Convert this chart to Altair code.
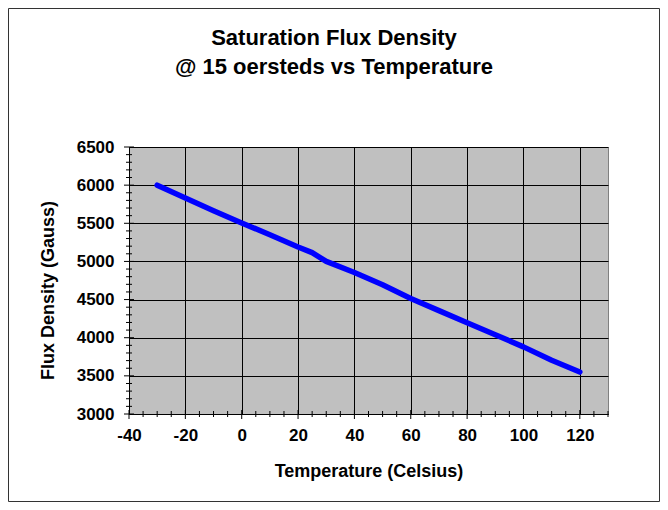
import altair as alt
import pandas as pd

# Data
TEMPS = [-30, -20, -10, 0, 10, 20, 25, 30, 40, 50, 60, 70, 80, 90, 100, 110, 120]
FLUX = [6000, 5830, 5665, 5505, 5350, 5190, 5115, 5000, 4855, 4695, 4515, 4355, 4195, 4040, 3880, 3705, 3550]

TITLE_LINES = ["Saturation Flux Density", "@ 15 oersteds vs Temperature"]
X_TITLE = "Temperature (Celsius)"
Y_TITLE = "Flux Density (Gauss)"

X_MAJOR = [-40, -20, 0, 20, 40, 60, 80, 100, 120]
X_MINOR = [v for v in range(-35, 131, 5) if v not in X_MAJOR]
Y_MAJOR = [3000, 3500, 4000, 4500, 5000, 5500, 6000, 6500]
Y_MINOR = [v for v in range(3100, 6500, 100) if v not in Y_MAJOR]

FONT = "Liberation Sans"
W, H = 479, 267
PAD = {"left": 121, "top": 139, "right": 52, "bottom": 88}

xscale = alt.Scale(domain=[-40, 130], nice=False, zero=False)
yscale = alt.Scale(domain=[3000, 6500], nice=False, zero=False)

x_axis = alt.Axis(values=X_MAJOR, title=X_TITLE, grid=True, ticks=False,
                  labelExpr="'' + datum.value", labelFlush=False, labelOverlap=False,
                  labelPadding=13, titleBaseline="alphabetic", titleY=62)
y_axis = alt.Axis(values=Y_MAJOR, title=Y_TITLE, grid=True, ticks=False,
                  labelExpr="'' + datum.value", labelFlush=False, labelOverlap=False,
                  labelPadding=15, titleBaseline="alphabetic",
                  titleX=-76, titleY=143, titleAngle=-90)

df = pd.DataFrame({"temp": TEMPS, "flux": FLUX})

line = alt.Chart(df).mark_line(
    color="#0000FF", strokeWidth=5.5, strokeCap="round", strokeJoin="round"
).encode(
    x=alt.X("temp:Q", scale=xscale, axis=x_axis),
    y=alt.Y("flux:Q", scale=yscale, axis=y_axis),
)

def xticks(vals, up, down):
    return alt.Chart(pd.DataFrame({"v": vals})).mark_rule(
        color="black", strokeWidth=1, yOffset=-up, y2Offset=down
    ).encode(
        x=alt.X("v:Q", scale=xscale, axis=x_axis),
        y=alt.YDatum(3000, axis=y_axis),
        y2=alt.Y2Datum(3000),
    )

def yticks(vals, left, right):
    return alt.Chart(pd.DataFrame({"v": vals})).mark_rule(
        color="black", strokeWidth=1, xOffset=-left, x2Offset=right
    ).encode(
        y=alt.Y("v:Q", scale=yscale, axis=y_axis),
        x=alt.XDatum(-40, axis=x_axis),
        x2=alt.X2Datum(-40),
    )

title = alt.Chart(pd.DataFrame({"t": ["\n".join(TITLE_LINES)]})).mark_text(
    font=FONT, fontSize=22, fontWeight="bold", align="center", baseline="alphabetic",
    lineBreak="\n", lineHeight=29, color="black"
).encode(text="t:N", x=alt.value(205), y=alt.value(-102))

frame = alt.Chart(pd.DataFrame({"a": [0]})).mark_rect(
    fillOpacity=0, stroke="#333333", strokeWidth=1
).encode(
    x=alt.value(-PAD["left"] + 0.5), x2=alt.value(W + PAD["right"] - 0.5),
    y=alt.value(-PAD["top"] + 0.5), y2=alt.value(H + PAD["bottom"] - 0.5),
)

chart = alt.layer(
    line, xticks(X_MAJOR, 4, 5), xticks(X_MINOR, 3, 3),
    yticks(Y_MAJOR, 5, 5), yticks(Y_MINOR, 3, 3), title, frame
).properties(
    width=W, height=H,
    autosize=alt.AutoSizeParams(type="none"),
    padding=PAD,
    background="white",
).configure_view(
    fill="#C0C0C0", stroke="#808080", strokeWidth=1
).configure_axis(
    labelFont=FONT, labelFontSize=17, labelFontWeight="bold", labelColor="black",
    titleFont=FONT, titleFontSize=18, titleFontWeight="bold", titleColor="black",
    domainColor="black", domainWidth=1, gridColor="black", gridWidth=1, gridOpacity=1,
)

chart.save("out.html", embed_options={"renderer": "svg", "actions": False})
